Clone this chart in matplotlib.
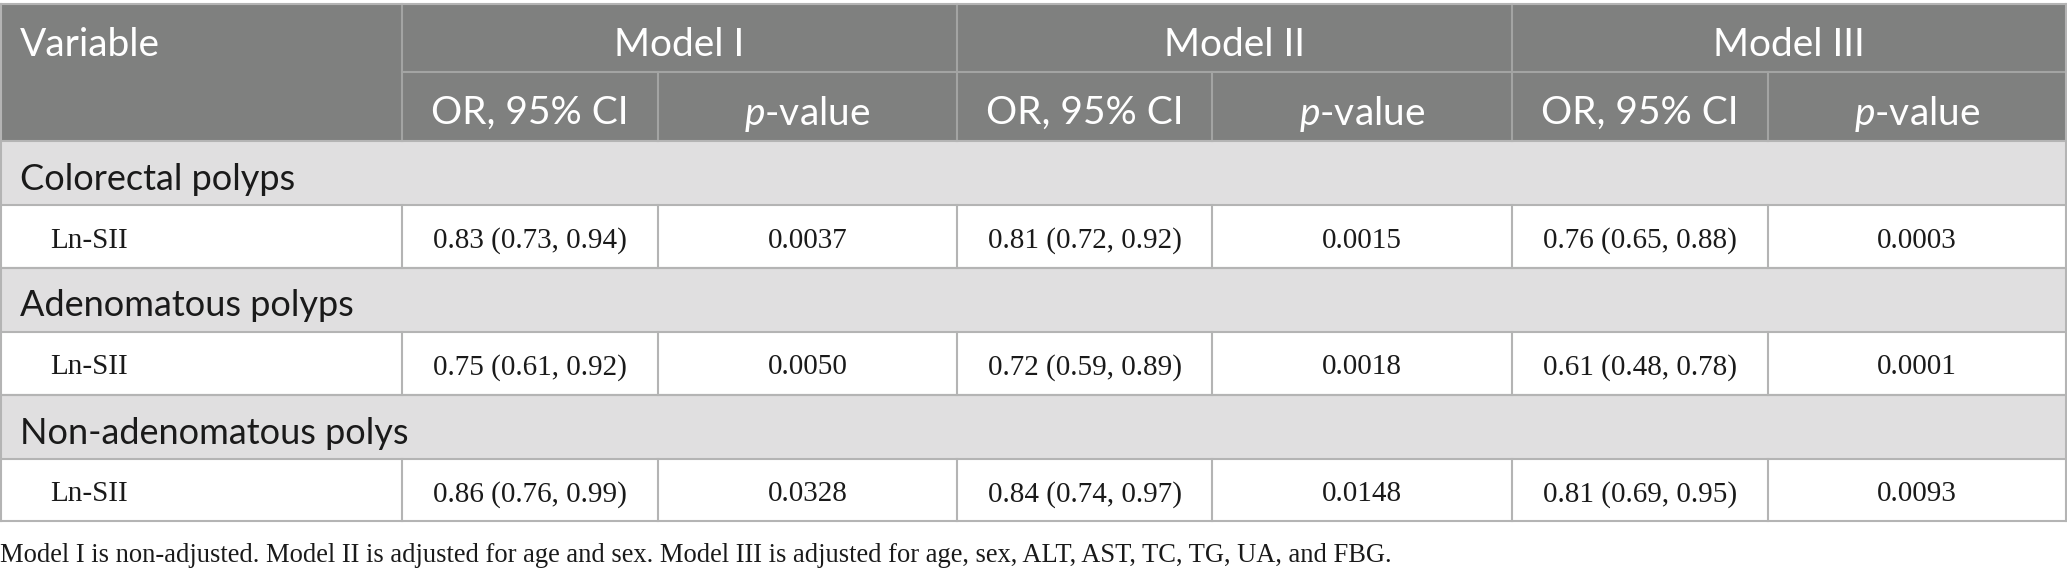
import matplotlib
matplotlib.use('Agg')
import matplotlib.pyplot as plt
from matplotlib.patches import Rectangle

# table content
models = ['Model I', 'Model II', 'Model III']
sub_headers = ['OR, 95% CI', '$p$-value']
groups = ['Colorectal polyps', 'Adenomatous polyps', 'Non-adenomatous polys']
row_label = 'Ln-SII'
or_ci = [
    ['0.83 (0.73, 0.94)', '0.81 (0.72, 0.92)', '0.76 (0.65, 0.88)'],
    ['0.75 (0.61, 0.92)', '0.72 (0.59, 0.89)', '0.61 (0.48, 0.78)'],
    ['0.86 (0.76, 0.99)', '0.84 (0.74, 0.97)', '0.81 (0.69, 0.95)'],
]
p_values = [
    ['0.0037', '0.0015', '0.0003'],
    ['0.0050', '0.0018', '0.0001'],
    ['0.0328', '0.0148', '0.0093'],
]
footnote = ('Model I is non-adjusted. Model II is adjusted for age and sex. '
            'Model III is adjusted for age, sex, ALT, AST, TC, TG, UA, and FBG.')

# layout in pixels
W, H = 2067, 573
col_edges = [0, 402, 658, 957, 1212, 1512, 1768, 2066]
row_edges = [4, 72, 141, 205, 268, 332, 395, 459, 521]

header_bg = '#7f807f'
group_bg = '#e0dfe0'
line_col = '#b4b4b4'
head_line = '#a3a4a3'

plt.rcParams['mathtext.fontset'] = 'custom'
plt.rcParams['mathtext.it'] = 'Lato:italic'
plt.rcParams['mathtext.rm'] = 'Lato'

fig = plt.figure(figsize=(W / 100, H / 100), dpi=100)
ax = fig.add_axes([0, 0, 1, 1])
ax.set_xlim(0, W)
ax.set_ylim(H, 0)
ax.axis('off')

sans = 'Lato'
serif = 'Liberation Serif'
hsize = 28
gsize = 26
dsize = 21
vb = 'center_baseline'
dy = 3  # small nudge so sans text sits like the reference

# header block
ax.add_patch(Rectangle((0, row_edges[0]), col_edges[-1], row_edges[2] - row_edges[0],
                       facecolor=header_bg, edgecolor='none'))
ax.text(20, (row_edges[0] + row_edges[1]) / 2 + dy, 'Variable', color='white',
        fontsize=hsize, family=sans, ha='left', va=vb)
for i, m in enumerate(models):
    x0, x1 = col_edges[1 + 2 * i], col_edges[3 + 2 * i]
    ax.text((x0 + x1) / 2, (row_edges[0] + row_edges[1]) / 2 + dy, m, color='white',
            fontsize=hsize, family=sans, ha='center', va=vb)
    for j, s in enumerate(sub_headers):
        c0, c1 = col_edges[1 + 2 * i + j], col_edges[2 + 2 * i + j]
        ax.text((c0 + c1) / 2, (row_edges[1] + row_edges[2]) / 2 + dy, s, color='white',
                fontsize=hsize, family=sans, ha='center', va=vb)

# header lines
ax.plot([col_edges[1], col_edges[-1]], [row_edges[1]] * 2, color=head_line, lw=1.5)
for i in range(1, 7):
    top = row_edges[0] if i % 2 == 1 else row_edges[1]
    ax.plot([col_edges[i]] * 2, [top, row_edges[2]], color=head_line, lw=1.5)

# body
for g, name in enumerate(groups):
    r0, r1, r2 = row_edges[2 + 2 * g], row_edges[3 + 2 * g], row_edges[4 + 2 * g]
    ax.add_patch(Rectangle((0, r0), col_edges[-1], r1 - r0,
                           facecolor=group_bg, edgecolor='none'))
    ax.text(20, (r0 + r1) / 2 + dy, name, color='#1a1a1a', fontsize=gsize,
            family=sans, ha='left', va=vb)
    ym = (r1 + r2) / 2 + 1
    ax.text(50, ym, row_label, color='#1a1a1a', fontsize=dsize,
            family=serif, ha='left', va=vb)
    for i in range(3):
        c0, c1, c2 = col_edges[1 + 2 * i], col_edges[2 + 2 * i], col_edges[3 + 2 * i]
        ax.text((c0 + c1) / 2, ym, or_ci[g][i], color='#1a1a1a', fontsize=dsize,
                family=serif, ha='center', va=vb)
        ax.text((c1 + c2) / 2, ym, p_values[g][i], color='#1a1a1a', fontsize=dsize,
                family=serif, ha='center', va=vb)
    for y in (r0, r1, r2):
        ax.plot([0, col_edges[-1]], [y, y], color=line_col, lw=1.5)
    for x in col_edges[1:-1]:
        ax.plot([x, x], [r1, r2], color=line_col, lw=1.5)

# outer border
ax.plot([0, col_edges[-1]], [row_edges[0]] * 2, color=line_col, lw=1.5)
ax.plot([1, 1], [row_edges[0], row_edges[-1]], color=line_col, lw=1.5)
ax.plot([col_edges[-1]] * 2, [row_edges[0], row_edges[-1]], color=line_col, lw=1.5)

ax.text(0, 552, footnote, color='#1a1a1a', fontsize=19.1, family=serif,
        ha='left', va=vb)

fig.savefig('out.png', dpi=100)
